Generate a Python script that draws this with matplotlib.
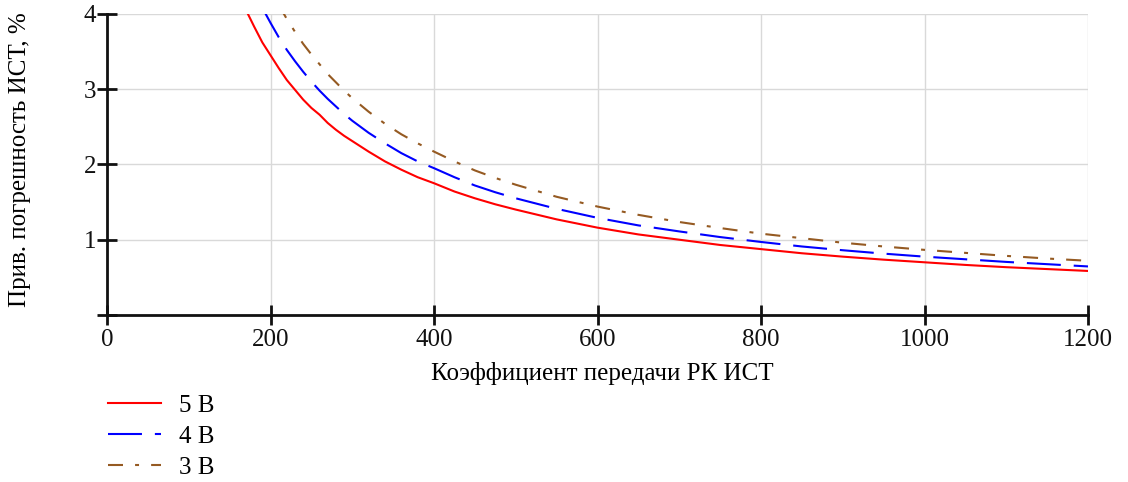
import matplotlib
matplotlib.use("Agg")
import matplotlib.pyplot as plt

plt.rcParams['font.family'] = ['Liberation Serif', 'DejaVu Serif']

# Data
x_red = [170, 180, 190, 200, 210, 220, 230, 240, 250, 260, 270, 280, 290, 300, 320, 340, 360, 380,
         400, 425, 450, 475, 500, 550, 600, 650, 700, 750, 800, 850, 900, 950, 1000, 1050, 1100, 1150, 1200]
y_red = [4.05, 3.83, 3.62, 3.45, 3.28, 3.12, 2.99, 2.86, 2.75, 2.66, 2.55, 2.46, 2.38, 2.31, 2.17, 2.04, 1.93, 1.83,
         1.75, 1.64, 1.55, 1.47, 1.40, 1.27, 1.16, 1.07, 1.00, 0.93, 0.875, 0.82, 0.775, 0.735, 0.70, 0.665, 0.635, 0.61, 0.585]

x_blue = [190, 200, 210, 220, 230, 240, 250, 260, 270, 280, 290, 300, 320, 340, 360, 380,
          400, 425, 450, 475, 500, 550, 600, 650, 700, 750, 800, 850, 900, 950, 1000, 1050, 1100, 1150, 1200]
y_blue = [4.08, 3.88, 3.69, 3.52, 3.37, 3.23, 3.10, 2.98, 2.87, 2.77, 2.67, 2.58, 2.42, 2.28, 2.15, 2.04,
          1.95, 1.83, 1.72, 1.63, 1.55, 1.41, 1.29, 1.19, 1.11, 1.035, 0.97, 0.91, 0.86, 0.815, 0.775, 0.74, 0.705, 0.675, 0.645]

x_brown = [210, 220, 230, 240, 250, 260, 270, 280, 290, 300, 320, 340, 360, 380,
           400, 425, 450, 475, 500, 550, 600, 650, 700, 750, 800, 850, 900, 950, 1000, 1050, 1100, 1150, 1200]
y_brown = [4.12, 3.93, 3.76, 3.60, 3.46, 3.33, 3.20, 3.09, 2.98, 2.88, 2.70, 2.54, 2.40, 2.28,
           2.17, 2.04, 1.92, 1.82, 1.73, 1.57, 1.44, 1.33, 1.235, 1.155, 1.08, 1.02, 0.96, 0.91, 0.865, 0.825, 0.785, 0.75, 0.72]

labels = ['5 В', '4 В', '3 В']
x_ticks = [0, 200, 400, 600, 800, 1000, 1200]
y_ticks = [0, 1, 2, 3, 4]
y_tick_labels = ['', '1', '2', '3', '4']

W, H = 1128, 482
fig = plt.figure(figsize=(W / 100, H / 100), dpi=100)
ax = fig.add_axes([107 / W, 1 - 315 / H, (1088 - 107) / W, (315 - 13.8) / H])

lw = 1.5
l1, = ax.plot(x_red, y_red, color='#ff0000', lw=lw, label=labels[0])
l2, = ax.plot(x_blue, y_blue, color='#0000ff', lw=lw, linestyle=(0, (16.3, 6.2)), label=labels[1])
l3, = ax.plot(x_brown, y_brown, color='#955a22', lw=lw, linestyle=(0, (7.2, 5.8, 1.9, 5.8)), label=labels[2])

ax.set_xlim(0, 1200)
ax.set_ylim(0, 4)
ax.set_xticks(x_ticks)
ax.set_yticks(y_ticks)
ax.set_yticklabels(y_tick_labels)
ax.grid(True, color='#d9d9d9', lw=1.0)
ax.set_axisbelow(True)
for s in ['top', 'right']:
    ax.spines[s].set_visible(False)
for s in ['left', 'bottom']:
    ax.spines[s].set_linewidth(2)
    ax.spines[s].set_color('#111111')
ax.tick_params(direction='inout', length=14, width=2, labelsize=18, colors='#111111')
ax.tick_params(axis='y', pad=1)
ax.tick_params(axis='x', pad=3)

ax.set_xlabel('Коэффициент передачи РК ИСТ', fontsize=18)
ax.set_ylabel('Прив. погрешность ИСТ, %', fontsize=18)
ax.xaxis.set_label_coords(0.505, -0.155)
ax.yaxis.set_label_coords(-0.077, 0.515)

fig.legend(handles=[l1, l2, l3], loc='upper left', bbox_to_anchor=(108 / W, 1 - 394 / H),
           frameon=False, fontsize=18, handlelength=2.1, handletextpad=0.75,
           borderpad=0, borderaxespad=0, labelspacing=0.35)

fig.savefig('out.png', dpi=100)
